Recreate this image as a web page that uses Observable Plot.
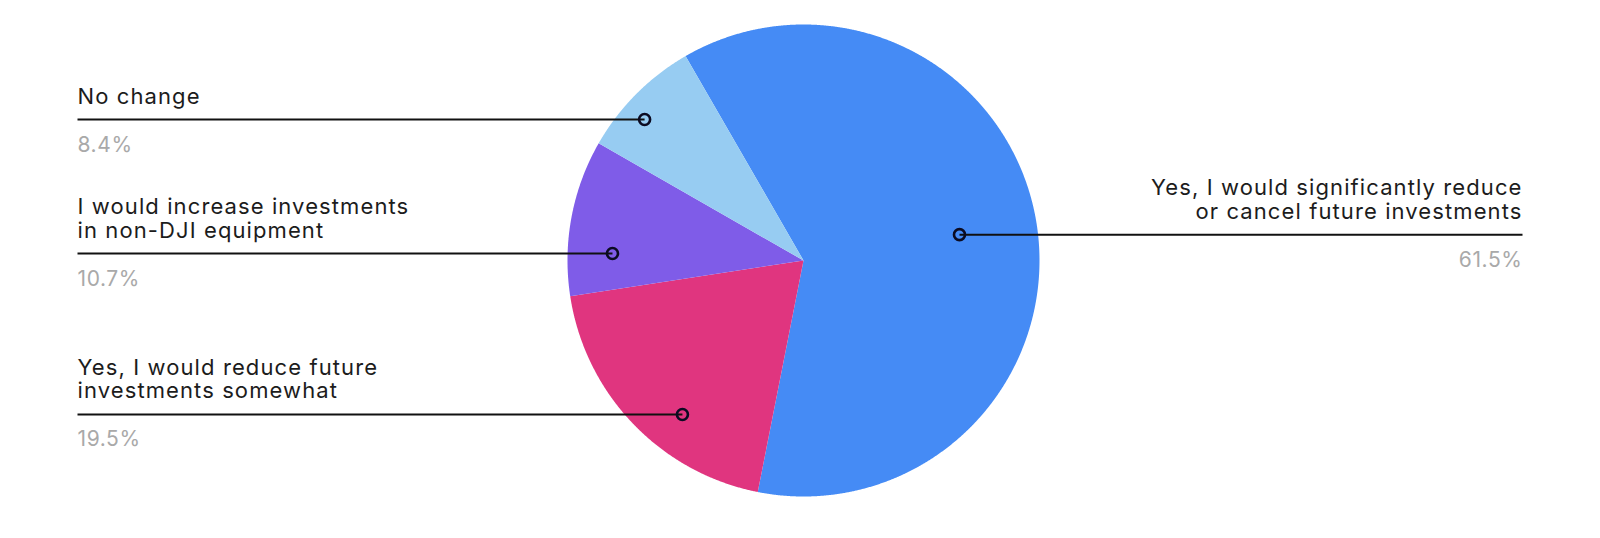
<!DOCTYPE html>
<html>
<head>
<meta charset="utf-8">
<script src="https://cdn.jsdelivr.net/npm/d3@7"></script>
<script src="https://cdn.jsdelivr.net/npm/@observablehq/plot@0.6"></script>
<style>
  html, body { margin: 0; padding: 0; background: #fff; }
  #chart svg { display: block; }
  #chart g[fill="#1c1c1c"] text { letter-spacing: 1.1px; }
  #chart g[fill="#a9a9a9"] text { letter-spacing: 0.6px; }
</style>
</head>
<body>
<div id="chart"></div>
<script>
// ---- data ----
const categories = [
  "Yes, I would significantly reduce or cancel future investments",
  "Yes, I would reduce future investments somewhat",
  "I would increase investments in non-DJI equipment",
  "No change"
];
const labelLines = [
  "Yes, I would significantly reduce\nor cancel future investments",
  "Yes, I would reduce future\ninvestments somewhat",
  "I would increase investments\nin non-DJI equipment",
  "No change"
];
const values = [61.5, 19.5, 10.7, 8.4];
const valueLabels = ["61.5%", "19.5%", "10.7%", "8.4%"];
const colors = ["#458bf5", "#e0357f", "#7f5ce8", "#97ccf2"];

// ---- annotation layout (relative position of the marker inside each slice) ----
const anchorFraction = [0.50, 0.385, 0.28, 0.39];  // along the slice's angle span
const anchorRadius = [0.67, 0.83, 0.81, 0.90];     // share of the pie radius
const labelSide = ["right", "left", "left", "left"];

// ---- geometry ----
const W = 1600, H = 538, cx = 803, cy = 260, R = 236;
const leftEdge = 77, rightEdge = 1522;
const deg = Math.PI / 180;

const arcs = d3.pie().sort(null).value(d => d)
  .startAngle(-30 * deg).endAngle(330 * deg)(values);

const slicePts = [];
arcs.forEach((a, i) => {
  slicePts.push({cat: categories[i], u: 0, v: 0});
  const n = Math.ceil((a.endAngle - a.startAngle) / (0.2 * deg));
  for (let k = 0; k <= n; k++) {
    const t = a.startAngle + (a.endAngle - a.startAngle) * k / n;
    slicePts.push({cat: categories[i], u: Math.sin(t), v: Math.cos(t)});
  }
});

const anchors = arcs.map((a, i) => {
  const t = a.startAngle + (a.endAngle - a.startAngle) * anchorFraction[i];
  const r = anchorRadius[i];
  const side = labelSide[i];
  return {
    cat: categories[i],
    u: r * Math.sin(t),
    v: r * Math.cos(t),
    edge: side === "left" ? (leftEdge - cx) / R : (rightEdge - cx) / R,
    side,
    label: labelLines[i],
    pct: valueLabels[i]
  };
});
const leftAnchors = anchors.filter(d => d.side === "left");
const rightAnchors = anchors.filter(d => d.side === "right");

const font = "Inter, 'Noto Sans', sans-serif";

function labelMarks(data, anchor) {
  return [
    Plot.text(data, {
      x: "edge", y: "v", text: "label",
      textAnchor: anchor,
      lineAnchor: "bottom", lineHeight: 1.06, dy: -16,
      fontSize: 22, fill: "#1c1c1c"
    }),
    Plot.text(data, {
      x: "edge", y: "v", text: "pct",
      textAnchor: anchor,
      lineAnchor: "bottom", dy: 32,
      fontSize: 21, fill: "#a9a9a9"
    })
  ];
}

const chart = Plot.plot({
  width: W,
  height: H,
  margin: 0,
  x: {domain: [-cx / R, (W - cx) / R], axis: null},
  y: {domain: [-(H - cy) / R, cy / R], axis: null},
  color: {domain: categories, range: colors},
  style: {fontFamily: font, background: "#fff"},
  marks: [
    Plot.line(slicePts, {x: "u", y: "v", z: "cat", fill: "cat", stroke: "none", curve: "linear-closed"}),
    Plot.link(anchors, {x1: "edge", y1: "v", x2: "u", y2: "v", stroke: "#111", strokeWidth: 2}),
    Plot.dot(anchors, {x: "u", y: "v", r: 5.5, stroke: "#0b0b22", strokeWidth: 2.6, fill: "none"}),
    ...labelMarks(leftAnchors, "start"),
    ...labelMarks(rightAnchors, "end")
  ]
});
document.getElementById("chart").appendChild(chart);
</script>
</body>
</html>
